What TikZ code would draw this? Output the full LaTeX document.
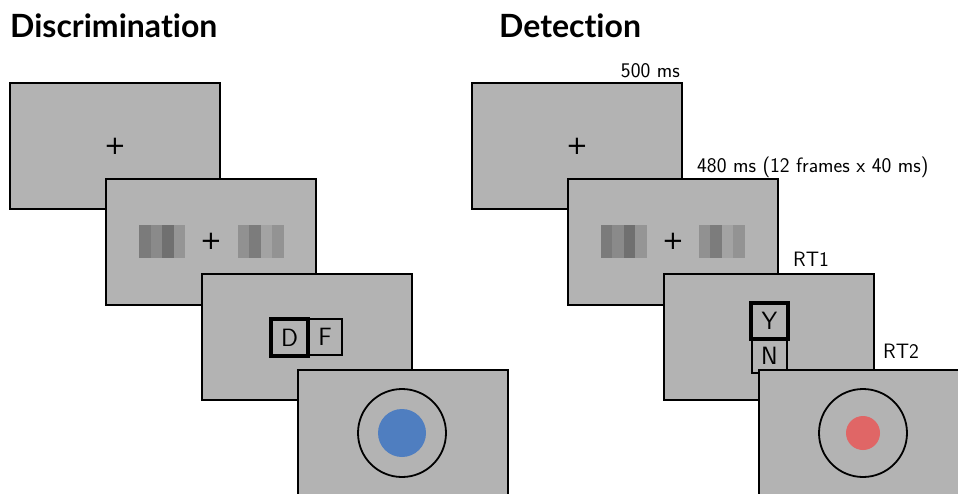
\documentclass[tikz,border=0pt]{standalone}
\usepackage{fontspec}
\usetikzlibrary{calc}
\newfontfamily\titlefont{Lato}[Ligatures={NoCommon}]
\newfontfamily\plusfont{DejaVu Sans}
\definecolor{scr}{RGB}{179,179,179}
\definecolor{dotblue}{RGB}{79,126,192}
\definecolor{dotred}{RGB}{224,102,102}
\definecolor{gA}{RGB}{123,123,123}
\definecolor{gB}{RGB}{138,138,138}
\definecolor{gC}{RGB}{112,112,112}
\definecolor{gD}{RGB}{149,149,149}
\definecolor{gE}{RGB}{145,145,145}
\definecolor{gF}{RGB}{124,124,124}
\definecolor{gG}{RGB}{163,163,163}
\definecolor{gH}{RGB}{147,147,147}
\tikzset{
  screen/.style={draw=black, line width=2pt, fill=scr, minimum width=210pt, minimum height=126pt, inner sep=0pt, outer sep=0pt},
  title/.style={font=\titlefont\bfseries\fontsize{32}{36}\selectfont, anchor=base west, inner sep=0pt},
  timelabel/.style={font=\sffamily\fontsize{20.8}{24}\selectfont, inner sep=0pt},
  fixplus/.style={font=\plusfont\fontsize{26}{30}\selectfont, inner sep=0pt},
  keythick/.style={draw=black, line width=3.5pt, inner sep=0pt, outer sep=0pt, font=\sffamily\fontsize{25}{28}\selectfont},
  keythin/.style={draw=black, line width=1.5pt, inner sep=0pt, outer sep=0pt, font=\sffamily\fontsize{25}{28}\selectfont},
  ring/.style={draw=black, line width=1.8pt, circle, minimum size=88pt, inner sep=0pt},
  grating/.pic={
    \fill[gA] (-23,-16.5) rectangle ++(11.5,33);
    \fill[gB] (-11.5,-16.5) rectangle ++(11.5,33);
    \fill[gC] (0,-16.5) rectangle ++(11.5,33);
    \fill[gD] (11.5,-16.5) rectangle ++(11.5,33);
  },
  gratingb/.pic={
    \fill[gE] (-23,-16.5) rectangle ++(11.5,33);
    \fill[gF] (-11.5,-16.5) rectangle ++(11.5,33);
    \fill[gG] (0,-16.5) rectangle ++(11.5,33);
    \fill[gH] (11.5,-16.5) rectangle ++(11.5,33);
  },
}
\begin{document}
\begin{tikzpicture}[x=1pt,y=-1pt]
\useasboundingbox (0,0) rectangle (958,493);
\clip (0,0) rectangle (958,493);
% titles
\node[title] (tD) at (10,37) {Discrimination};
\node[title] (tE) at (499,37) {Detection};
% ---------------- Discrimination ----------------
\node[screen] (d1) at (115,146) {};
\node[fixplus] (d1p) at (d1.center) {+};
\node[screen] (d2) at (211,241.5) {};
\node[fixplus] (d2p) at (d2.center) {+};
\pic at ($(d2.center)+(-49,0)$) {grating};
\pic at ($(d2.center)+(49.5,0)$) {gratingb};
\node[screen] (d3) at (307,337) {};
\node[keythin, minimum width=34pt, minimum height=36pt] (kF) at (325,337) {F};
\node[keythick, minimum width=37pt, minimum height=37pt] (kD) at (289.5,337.5) {D};
\node[screen] (d4) at (403,433) {};
\node[ring] (c4) at (402,433) {};
\fill[dotblue] (c4.center) circle (24);
% ---------------- Detection ----------------
\node[screen] (r1) at (577,146) {};
\node[fixplus] (r1p) at (r1.center) {+};
\node[timelabel, anchor=base east] (l500) at ($(r1.north east)+(-2,-6)$) {500 ms};
\node[screen] (r2) at (673,241.5) {};
\node[fixplus] (r2p) at (r2.center) {+};
\pic at ($(r2.center)+(-49.5,0)$) {grating};
\pic at ($(r2.center)+(48.5,0)$) {gratingb};
\node[timelabel, anchor=base west] (l480) at (697,172) {480 ms (12 frames x 40 ms)};
\node[timelabel, anchor=base west] (lrt1) at (793,266) {RT1};
\node[screen] (r3) at (769,337) {};
\node[keythin, minimum width=35pt, minimum height=34pt] (kN) at (769.5,356) {N};
\node[keythick, minimum width=37pt, minimum height=36pt] (kY) at (769.5,321) {Y};
\node[timelabel, anchor=base west] (lrt2) at (883,358) {RT2};
\node[screen] (r4) at (864,433) {};
\node[ring] (c8) at (863,433) {};
\fill[dotred] (c8.center) circle (17);
\end{tikzpicture}
\end{document}
